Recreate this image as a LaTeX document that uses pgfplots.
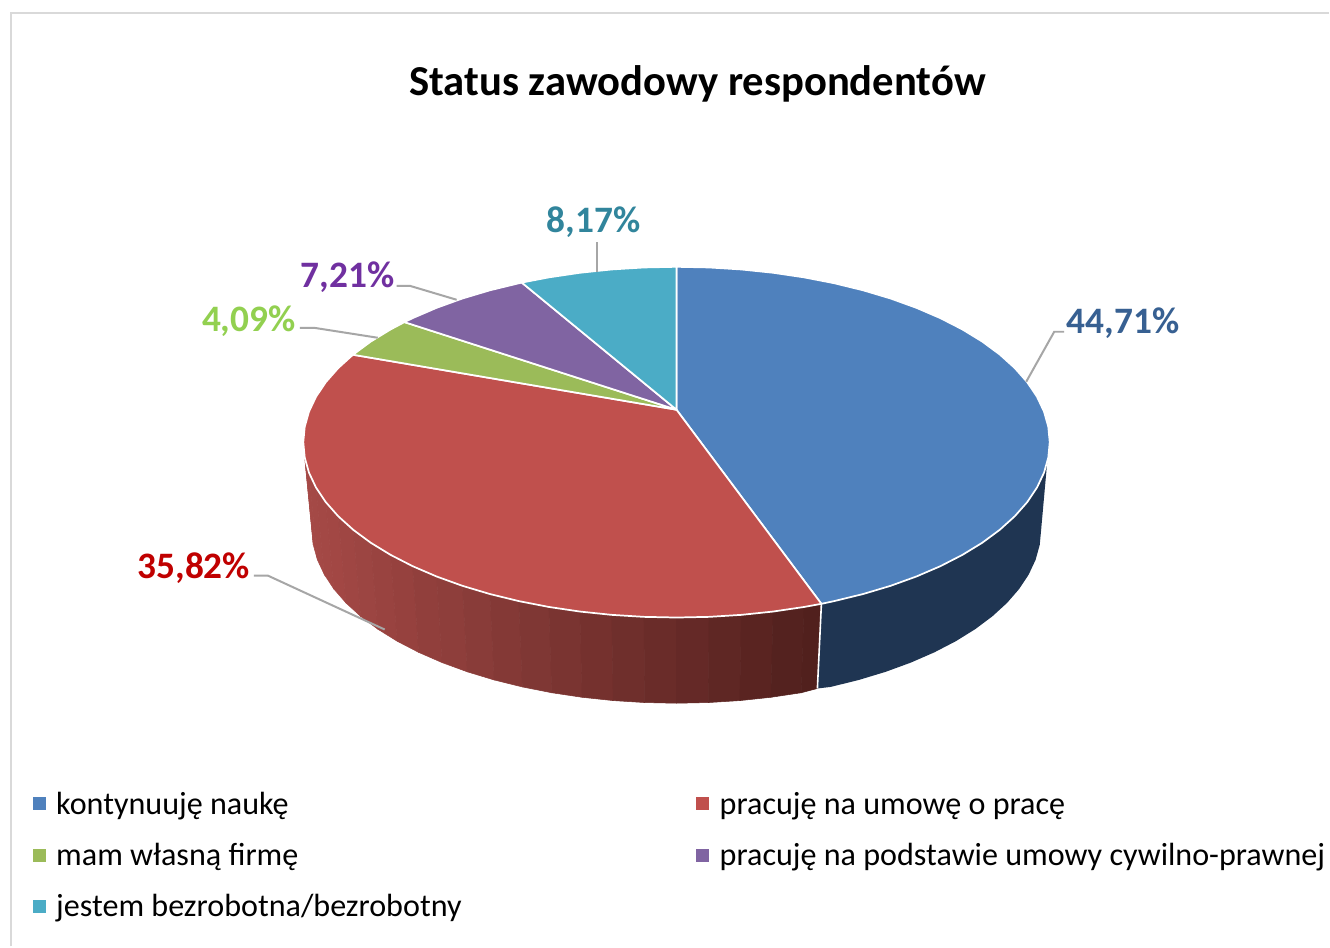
\documentclass[border=0pt]{standalone}
\usepackage{fontspec}
\setmainfont{Carlito}
\usepackage{pgfplots}
\pgfplotsset{compat=1.18}
\definecolor{cblue}{HTML}{4F81BD}
\definecolor{cred}{HTML}{C0504D}
\definecolor{cgreen}{HTML}{9BBB59}
\definecolor{cpurple}{HTML}{8064A2}
\definecolor{cteal}{HTML}{4BACC6}
\definecolor{wblue}{HTML}{1F3552}
\definecolor{leader}{HTML}{A6A6A6}
\definecolor{redL}{HTML}{A54946}
\definecolor{redR}{HTML}{4F1F1C}
\newcommand{\strip}[2]{\addplot[draw=redL!#1!redR,fill=redL!#1!redR,line width=.4pt] coordinates {#2} -- cycle;}
\begin{document}
\begin{tikzpicture}[x=1pt,y=1pt]
\fill[white] (0,0) rectangle (997.5pt,710.25pt);
% pie: coordinates on the unit ellipse of the top face
\begin{axis}[at={(0,0)},anchor=south west,scale only axis,width=997.5pt,height=710.25pt,
  hide axis,xmin=-1.8126,xmax=1.7483,ymin=-2.8746,ymax=2.5214,clip=false]
% side walls: red wall in graded strips
\strip{100}{(-.9962,-.0872)(-.977,-.4986)(-.9733,-.5849)}
\strip{100}{(-.9848,-.1736)(-.9962,-.0872)(-.9733,-.5849)(-.9622,-.6705)}
\strip{99}{(-.9659,-.2588)(-.9848,-.1736)(-.9622,-.6705)(-.9437,-.7548)}
\strip{98}{(-.9397,-.342)(-.9659,-.2588)(-.9437,-.7548)(-.9181,-.8372)}
\strip{96}{(-.9063,-.4226)(-.9397,-.342)(-.9181,-.8372)(-.8855,-.917)}
\strip{93}{(-.866,-.5)(-.9063,-.4226)(-.8855,-.917)(-.8461,-.9936)}
\strip{90}{(-.8192,-.5736)(-.866,-.5)(-.8461,-.9936)(-.8003,-1.0664)}
\strip{86}{(-.766,-.6428)(-.8192,-.5736)(-.8003,-1.0664)(-.7484,-1.135)}
\strip{82}{(-.7071,-.7071)(-.766,-.6428)(-.7484,-1.135)(-.6908,-1.1986)}
\strip{77}{(-.6428,-.766)(-.7071,-.7071)(-.6908,-1.1986)(-.628,-1.2569)}
\strip{73}{(-.5736,-.8192)(-.6428,-.766)(-.628,-1.2569)(-.5604,-1.3096)}
\strip{68}{(-.5,-.866)(-.5736,-.8192)(-.5604,-1.3096)(-.4885,-1.356)}
\strip{62}{(-.4226,-.9063)(-.5,-.866)(-.4885,-1.356)(-.4129,-1.3958)}
\strip{56}{(-.342,-.9397)(-.4226,-.9063)(-.4129,-1.3958)(-.3341,-1.4289)}
\strip{50}{(-.2588,-.9659)(-.342,-.9397)(-.3341,-1.4289)(-.2529,-1.4548)}
\strip{44}{(-.1736,-.9848)(-.2588,-.9659)(-.2529,-1.4548)(-.1696,-1.4736)}
\strip{37}{(-.0872,-.9962)(-.1736,-.9848)(-.1696,-1.4736)(-.0852,-1.4848)}
\strip{31}{(0,-1)(-.0872,-.9962)(-.0852,-1.4848)(0,-1.4886)}
\strip{25}{(.0872,-.9962)(0,-1)(0,-1.4886)(.0852,-1.4848)}
\strip{19}{(.1736,-.9848)(.0872,-.9962)(.0852,-1.4848)(.1696,-1.4736)}
\strip{13}{(.2588,-.9659)(.1736,-.9848)(.1696,-1.4736)(.2529,-1.4548)}
\strip{6}{(.342,-.9397)(.2588,-.9659)(.2529,-1.4548)(.3341,-1.4289)}
\strip{2}{(.3882,-.9219)(.342,-.9397)(.3341,-1.4289)(.3775,-1.4046)}
\addplot[draw=none,fill=wblue] coordinates {
 (.993,-.119)(.9848,-.1736)(.9659,-.2588)(.9397,-.342)(.9063,-.4226)(.866,-.5)(.8192,-.5736)
 (.766,-.6428)(.7071,-.7071)(.6428,-.766)(.5736,-.8192)(.5,-.866)(.4226,-.9063)(.3882,-.9219)
 (.3775,-1.4046)(.4129,-1.3958)(.4885,-1.356)(.5604,-1.3096)(.628,-1.2569)(.6908,-1.1986)
 (.7484,-1.135)(.8003,-1.0664)(.8461,-.9936)(.8855,-.917)(.9181,-.8372)(.9437,-.7548)
 (.9622,-.6705)(.9733,-.5849)(.977,-.4986)
} -- cycle;
\addplot[white,line width=1.2pt] coordinates {(.3882,-.9219)(.3775,-1.4046)};
% top face
\addplot[draw=white,line width=1.3pt,fill=cblue,line join=round] coordinates {
 (0,.185)(0,1)(.0872,.9962)(.1736,.9848)(.2588,.9659)(.342,.9397)(.4226,.9063)(.5,.866)
 (.5736,.8192)(.6428,.766)(.7071,.7071)(.766,.6428)(.8192,.5736)(.866,.5)(.9063,.4226)
 (.9397,.342)(.9659,.2588)(.9848,.1736)(.9962,.0872)(1,0)(.9962,-.0872)(.9848,-.1736)
 (.9659,-.2588)(.9397,-.342)(.9063,-.4226)(.866,-.5)(.8192,-.5736)(.766,-.6428)(.7071,-.7071)
 (.6428,-.766)(.5736,-.8192)(.5,-.866)(.4226,-.9063)(.3882,-.9219)
} -- cycle;
\addplot[draw=white,line width=1.3pt,fill=cred,line join=round] coordinates {
 (0,.185)(.3882,-.9219)(.342,-.9397)(.2588,-.9659)(.1736,-.9848)(.0872,-.9962)(0,-1)
 (-.0872,-.9962)(-.1736,-.9848)(-.2588,-.9659)(-.342,-.9397)(-.4226,-.9063)(-.5,-.866)
 (-.5736,-.8192)(-.6428,-.766)(-.7071,-.7071)(-.766,-.6428)(-.8192,-.5736)(-.866,-.5)
 (-.9063,-.4226)(-.9397,-.342)(-.9659,-.2588)(-.9848,-.1736)(-.9962,-.0872)(-1,0)
 (-.9962,.0872)(-.9848,.1736)(-.9659,.2588)(-.9397,.342)(-.9063,.4226)(-.8669,.4985)
} -- cycle;
\addplot[draw=white,line width=1.3pt,fill=cgreen,line join=round] coordinates {
 (0,.185)(-.8669,.4985)(-.8192,.5736)(-.766,.6428)(-.729,.6845)
} -- cycle;
\addplot[draw=white,line width=1.3pt,fill=cpurple,line join=round] coordinates {
 (0,.185)(-.729,.6845)(-.7071,.7071)(-.6428,.766)(-.5736,.8192)(-.5,.866)(-.4147,.91)
} -- cycle;
\addplot[draw=white,line width=1.3pt,fill=cteal,line join=round] coordinates {
 (0,.185)(-.4147,.91)(-.342,.9397)(-.2588,.9659)(-.1736,.9848)(-.0872,.9962)(0,1)
} -- cycle;
\end{axis}
% chrome in picture pixels
\begin{axis}[at={(0,0)},anchor=south west,scale only axis,width=997.5pt,height=710.25pt,
  hide axis,xmin=0,xmax=1330,ymin=0,ymax=947,y dir=reverse,clip=false]
\addplot[color=black!15,line width=1.5pt] coordinates {(11,947)(11,13)(1330,13)};
\addplot[leader,line width=1.5pt] coordinates {(1027,382)(1055,332)(1065,332)};
\addplot[leader,line width=1.5pt] coordinates {(385,630)(268,576)(254,576)};
\addplot[leader,line width=1.5pt] coordinates {(378,338)(314,328)(300,328)};
\addplot[leader,line width=1.5pt] coordinates {(457,300)(410,286)(397,286)};
\addplot[leader,line width=1.5pt] coordinates {(597,272)(597,242)};
\addplot[only marks,mark=square*,mark size=4.6pt,color=cblue] coordinates {(39,804)};
\addplot[only marks,mark=square*,mark size=4.6pt,color=cred] coordinates {(703,804)};
\addplot[only marks,mark=square*,mark size=4.6pt,color=cgreen] coordinates {(39,856)};
\addplot[only marks,mark=square*,mark size=4.6pt,color=cpurple] coordinates {(703,856)};
\addplot[only marks,mark=square*,mark size=4.6pt,color=cteal] coordinates {(39,907)};
\node[font=\fontsize{32}{35}\selectfont\bfseries,text=black] at (698,84) {Status zawodowy respondentów};
\tikzset{lab/.style={font=\fontsize{28}{31}\selectfont\bfseries,inner sep=0pt}}
\node[lab,text={rgb,255:red,55;green,96;blue,146}] at (1124,323) {44,71\%};
\node[lab,text={rgb,255:red,192;green,0;blue,0}] at (194,569) {35,82\%};
\node[lab,text={rgb,255:red,146;green,208;blue,80}] at (249,321) {4,09\%};
\node[lab,text={rgb,255:red,112;green,48;blue,160}] at (348,277) {7,21\%};
\node[lab,text={rgb,255:red,49;green,133;blue,156}] at (594,222) {8,17\%};
\tikzset{leg/.style={font=\fontsize{24.1}{26}\selectfont,anchor=base west,inner sep=0pt,text=black}}
\node[leg] at (56,815) {kontynuuję naukę};
\node[leg] at (720,815) {pracuję na umowę o pracę};
\node[leg] at (56,866) {mam własną firmę};
\node[leg] at (720,866) {pracuję na podstawie umowy cywilno-prawnej};
\node[leg] at (56,917) {jestem bezrobotna/bezrobotny};
\end{axis}
\end{tikzpicture}
\end{document}
